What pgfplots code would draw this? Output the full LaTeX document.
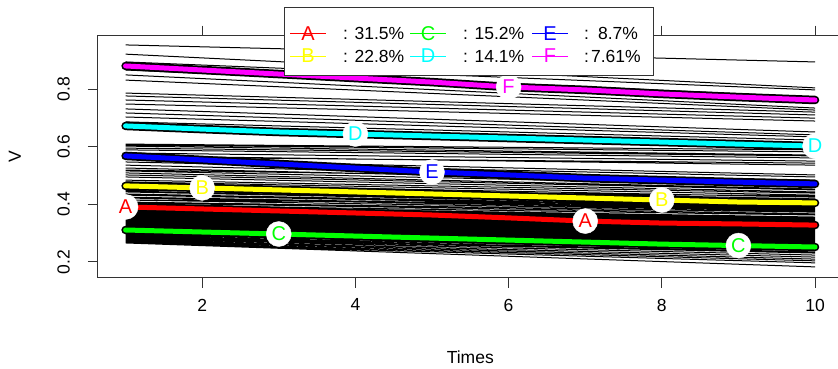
\documentclass[border=0pt]{standalone}
\usepackage{fontspec}
\setmainfont{Liberation Sans}
\usepackage{pgfplots}
\pgfplotsset{compat=1.18}
\usepackage{pgfplotstable}
\definecolor{Rred}{rgb}{1,0,0}
\definecolor{Ryellow}{rgb}{1,1,0}
\definecolor{Rgreen}{rgb}{0,1,0}
\definecolor{Rcyan}{rgb}{0,1,1}
\definecolor{Rblue}{rgb}{0,0,1}
\definecolor{Rmagenta}{rgb}{1,0,1}
\newcommand\tf{\fontsize{17.5}{20}\selectfont}
\newcommand\lf{\fontsize{20}{22}\selectfont}

\pgfplotstableread{
t A B C D E F
1 0.391 0.464 0.311 0.672 0.568 0.880
2 0.384 0.457 0.304 0.661 0.554 0.866
3 0.377 0.450 0.297 0.651 0.540 0.852
4 0.370 0.443 0.290 0.644 0.526 0.838
5 0.363 0.436 0.283 0.637 0.512 0.824
6 0.353 0.429 0.276 0.630 0.502 0.807
7 0.342 0.422 0.269 0.623 0.491 0.797
8 0.335 0.415 0.262 0.616 0.484 0.783
9 0.332 0.408 0.257 0.609 0.477 0.772
10 0.328 0.405 0.252 0.602 0.471 0.762
}\means

\begin{document}
\begin{tikzpicture}
\useasboundingbox (-98pt,-90.3pt) rectangle (740pt,277.7pt);
\begin{axis}[
  at={(0pt,0pt)}, anchor=south west, scale only axis,
  width=744.6pt, height=242pt,
  xmin=0.64, xmax=10.36, ymin=0.1455, ymax=0.985,
  xtick={2,4,6,8,10}, ytick={0.2,0.4,0.6,0.8},
  tick align=outside, major tick length=10pt,
  axis line style={black!80, line width=1pt},
  every tick/.style={black!80, line width=1pt},
  tick label style={font=\tf},
  /pgf/number format/assume math mode=true,
  xticklabel style={anchor=north, inner sep=0pt, yshift=-11pt},
  yticklabel style={rotate=90, anchor=south, inner sep=0pt, yshift=18pt},
  xlabel={Times}, ylabel={V},
  xlabel style={at={(axis description cs:0.5,-0.328)}, anchor=center, font=\tf, inner sep=0pt},
  ylabel style={at={(axis description cs:-0.1115,0.5)}, anchor=center, font=\tf, inner sep=0pt},
]
% individual trajectories
\addplot[black, line width=1pt, unbounded coords=jump] coordinates {
(1,0.953)(10,0.894)(10,nan)
(1,0.921)(10,0.804)(10,nan)
(1,0.894)(10,0.797)(10,nan)
(1,0.880)(10,0.772)(10,nan)
(1,0.866)(10,0.762)(10,nan)
(1,0.849)(10,0.734)(10,nan)
(1,0.831)(10,0.727)(10,nan)
(1,0.786)(10,0.720)(10,nan)
(1,0.776)(10,0.710)(10,nan)
(1,0.762)(10,0.699)(10,nan)
(1,0.748)(10,0.689)(10,nan)
(1,0.731)(10,0.651)(10,nan)
(1,0.717)(10,0.641)(10,nan)
(1,0.703)(10,0.634)(10,nan)
(1,0.686)(10,0.623)(10,nan)
(1,0.672)(10,0.613)(10,nan)
(1,0.661)(10,0.602)(10,nan)
(1,0.609)(10,0.589)(10,nan)
(1,0.606)(10,0.582)(10,nan)
(1,0.602)(10,0.571)(10,nan)
(1,0.595)(10,0.568)(10,nan)
(1,0.589)(10,0.561)(10,nan)
(1,0.578)(10,0.550)(10,nan)
(1,0.568)(10,0.536)(10,nan)
(1,0.557)(10,0.502)(10,nan)
(1,0.547)(10,0.495)(10,nan)
(1,0.536)(10,0.478)(10,nan)
(1,0.526)(10,0.471)(10,nan)
(1,0.516)(10,0.464)(10,nan)
(1,0.509)(10,0.453)(10,nan)
(1,0.502)(10,0.450)(10,nan)
(1,0.495)(10,0.443)(10,nan)
(1,0.484)(10,0.439)(10,nan)
(1,0.478)(10,0.432)(10,nan)
(1,0.471)(10,0.425)(10,nan)
(1,0.464)(10,0.419)(10,nan)
(1,0.457)(10,0.412)(10,nan)
(1,0.453)(10,0.405)(10,nan)
(1,0.446)(10,0.398)(10,nan)
(1,0.443)(10,0.394)(10,nan)
(1,0.436)(10,0.391)(10,nan)
(1,0.432)(10,0.387)(10,nan)
(1,0.425)(10,0.384)(10,nan)
(1,0.422)(10,0.380)(10,nan)
(1,0.415)(10,0.377)(10,nan)
(1,0.408)(10,0.373)(10,nan)
(1,0.405)(10,0.367)(10,nan)
(1,0.398)(10,0.363)(10,nan)
(1,0.394)(10,0.356)(10,nan)
(1,0.391)(10,0.353)(10,nan)
(1,0.387)(10,0.349)(10,nan)
(1,0.384)(10,0.346)(10,nan)
(1,0.380)(10,0.342)(10,nan)
(1,0.377)(10,0.339)(10,nan)
(1,0.373)(10,0.335)(10,nan)
(1,0.370)(10,0.332)(10,nan)
(1,0.367)(10,0.328)(10,nan)
(1,0.363)(10,0.325)(10,nan)
(1,0.360)(10,0.321)(10,nan)
(1,0.356)(10,0.318)(10,nan)
(1,0.353)(10,0.314)(10,nan)
(1,0.349)(10,0.311)(10,nan)
(1,0.346)(10,0.308)(10,nan)
(1,0.342)(10,0.304)(10,nan)
(1,0.339)(10,0.301)(10,nan)
(1,0.335)(10,0.297)(10,nan)
(1,0.332)(10,0.294)(10,nan)
(1,0.328)(10,0.290)(10,nan)
(1,0.325)(10,0.287)(10,nan)
(1,0.321)(10,0.283)(10,nan)
(1,0.318)(10,0.280)(10,nan)
(1,0.314)(10,0.276)(10,nan)
(1,0.314)(10,0.273)(10,nan)
(1,0.311)(10,0.269)(10,nan)
(1,0.308)(10,0.266)(10,nan)
(1,0.304)(10,0.262)(10,nan)
(1,0.301)(10,0.259)(10,nan)
(1,0.297)(10,0.256)(10,nan)
(1,0.294)(10,0.249)(10,nan)
(1,0.290)(10,0.242)(10,nan)
(1,0.287)(10,0.235)(10,nan)
(1,0.283)(10,0.231)(10,nan)
(1,0.280)(10,0.224)(10,nan)
(1,0.276)(10,0.217)(10,nan)
(1,0.273)(10,0.210)(10,nan)
(1,0.269)(10,0.204)(10,nan)
(1,0.266)(10,0.197)(10,nan)
(1,0.266)(10,0.183)(10,nan)
(1,0.450)(10,0.429)(10,nan)
(1,0.415)(10,0.398)(10,nan)
(1,0.519)(10,0.484)(10,nan)
(1,0.564)(10,0.543)
};
% cluster means
\pgfplotsinvokeforeach{A,B,C,D,E,F}{
  \addplot[black, line width=8.5pt, line cap=round, line join=round] table[x=t,y=#1]{\means};
}
\addplot[Rred, line width=5pt, line cap=round, line join=round] table[x=t,y=A]{\means};
\addplot[Ryellow, line width=5pt, line cap=round, line join=round] table[x=t,y=B]{\means};
\addplot[Rgreen, line width=5pt, line cap=round, line join=round] table[x=t,y=C]{\means};
\addplot[Rcyan, line width=5pt, line cap=round, line join=round] table[x=t,y=D]{\means};
\addplot[Rblue, line width=5pt, line cap=round, line join=round] table[x=t,y=E]{\means};
\addplot[Rmagenta, line width=5pt, line cap=round, line join=round] table[x=t,y=F]{\means};
% labels
\pgfplotsset{lbl/.style={white, only marks, mark=*, mark size=12.5pt, mark options={draw=white, fill=white},
  nodes near coords, point meta=explicit symbolic,
  every node near coord/.append style={anchor=center, inner sep=0pt, font=\lf, text=#1}}}
\addplot[lbl=Rred] coordinates {(1,0.391)[A] (7,0.342)[A]};
\addplot[lbl=Ryellow] coordinates {(2,0.457)[B] (8,0.415)[B]};
\addplot[lbl=Rgreen] coordinates {(3,0.297)[C] (9,0.257)[C]};
\addplot[lbl=Rcyan] coordinates {(4,0.644)[D] (10,0.602)[D]};
\addplot[lbl=Rblue] coordinates {(5,0.512)[E]};
\addplot[lbl=Rmagenta] coordinates {(6,0.807)[F]};
\end{axis}
% legend
\draw[black!80, line width=1pt, fill=white] (186pt,270.7pt) rectangle (555pt,202.7pt);
\foreach \c/\l/\X/\Y in {Rred/A/192/244.4, Ryellow/B/192/221.7, Rgreen/C/312/244.4, Rcyan/D/312/221.7, Rblue/E/434/244.4, Rmagenta/F/434/221.7}{
  \draw[\c, line width=1pt] (\X pt,\Y pt) -- ++(36pt,0);
  \node[text=\c, font=\lf, inner sep=0pt] at ({\X pt+18pt},\Y pt) {\l};
}
\node[anchor=west, inner sep=0pt, font=\tf] at (245pt,244.4pt) {: 31.5\%};
\node[anchor=west, inner sep=0pt, font=\tf] at (245pt,221.7pt) {: 22.8\%};
\node[anchor=west, inner sep=0pt, font=\tf] at (365pt,244.4pt) {: 15.2\%};
\node[anchor=west, inner sep=0pt, font=\tf] at (365pt,221.7pt) {: 14.1\%};
\node[anchor=west, inner sep=0pt, font=\tf] at (486pt,244.4pt) {:\hspace{9pt}8.7\%};
\node[anchor=west, inner sep=0pt, font=\tf] at (486pt,221.7pt) {:\hspace{2pt}7.61\%};
\end{tikzpicture}
\end{document}
